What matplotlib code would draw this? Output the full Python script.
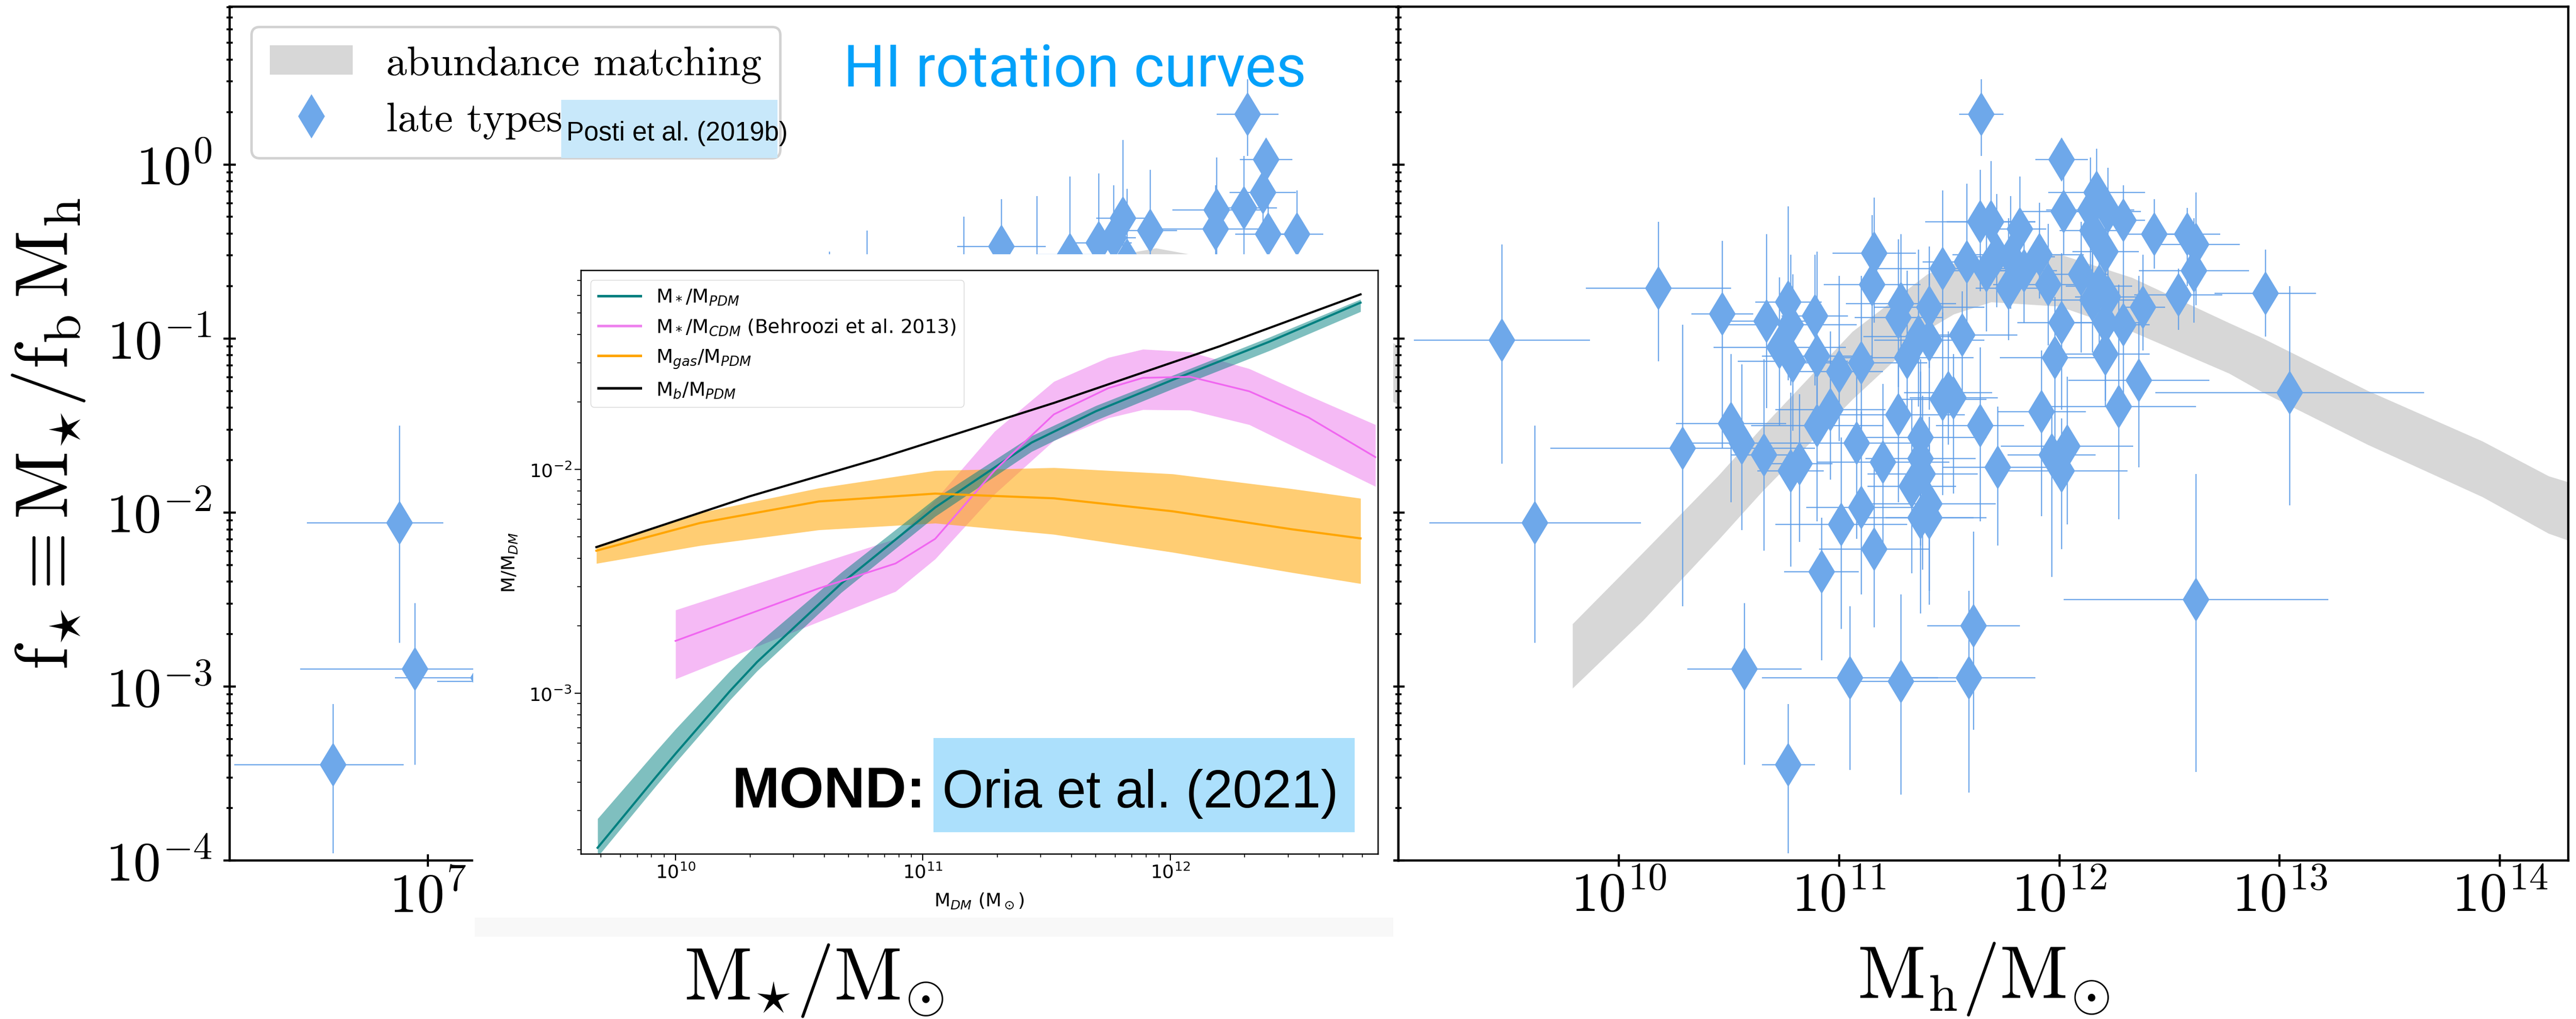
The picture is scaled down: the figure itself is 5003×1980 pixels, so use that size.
import numpy as np
import matplotlib
matplotlib.use("Agg")
import matplotlib.pyplot as plt
from matplotlib import font_manager as fm
from matplotlib.patches import Rectangle, Patch
from matplotlib.lines import Line2D

plt.rcParams['mathtext.fontset'] = 'cm'
plt.rcParams['font.family'] = 'serif'
plt.rcParams['font.serif'] = ['cmr10']
plt.rcParams['axes.unicode_minus'] = False
plt.rcParams['axes.formatter.use_mathtext'] = True

# ---------------------------------------------------------------------------
# HI rotation-curve galaxies: log10 halo mass, log10 f_star and errors (dex)
# ---------------------------------------------------------------------------
rc_log_mh = [9.47, 10.18, 10.47, 10.67, 10.77, 10.78, 10.89, 11.16, 11.15, 10.73,
             10.79, 10.90, 11.00, 11.10, 11.28, 11.27, 11.31, 11.36, 11.27, 10.51,
             10.56, 10.29, 10.66, 10.78, 10.82, 10.90, 10.96, 11.08, 11.20, 11.33,
             11.37, 11.37, 11.10, 11.01, 9.62, 10.57, 10.77, 10.92, 11.16, 11.05,
             11.28, 11.37, 11.645, 12.01, 12.02, 12.17, 12.14, 12.22, 12.29, 12.43,
             12.58, 12.62, 12.61, 12.54, 12.935, 13.045, 12.36, 12.27, 12.21, 12.29,
             12.21, 12.38, 12.15, 12.10, 12.18, 12.22, 12.21, 12.15, 12.01, 11.98,
             11.92, 12.01, 12.035, 11.965, 11.72, 11.64, 11.47, 11.52, 11.495, 11.56,
             11.41, 11.47, 11.58, 11.64, 11.69, 11.67, 11.715, 11.77, 11.82, 11.84,
             11.91, 11.95, 11.78, 11.41, 11.38, 11.41, 11.41, 11.61, 11.59, 12.62]
rc_log_fstar = [-1.01, -0.71, -0.86, -0.90, -0.79, -0.92, -0.87, -0.51, -0.69, -1.05,
                -1.13, -1.10, -1.19, -1.14, -0.80, -0.88, -1.11, -0.99, -1.44, -1.49,
                -1.60, -1.63, -1.67, -1.76, -1.72, -1.50, -1.41, -1.60, -1.71, -1.85,
                -1.57, -1.69, -1.97, -2.07, -2.06, -2.90, -3.45, -2.34, -2.21, -2.95,
                -2.97, -2.03, 0.29, 0.03, -0.27, -0.16, -0.26, -0.27, -0.32, -0.40,
                -0.40, -0.46, -0.61, -0.75, -0.74, -1.31, -1.24, -1.39, -1.09, -0.92,
                -0.91, -0.82, -0.78, -0.63, -0.70, -0.76, -0.50, -0.38, -0.91, -1.11,
                -1.42, -1.76, -1.62, -1.67, -1.74, -1.50, -1.35, -1.34, -1.31, -0.98,
                -0.82, -0.60, -0.56, -0.33, -0.33, -0.61, -0.52, -0.71, -0.37, -0.61,
                -0.52, -0.69, -0.53, -1.01, -1.78, -1.95, -2.03, -2.65, -2.95, -2.50]
rc_mh_err = [0.40, 0.33, 0.14, 0.20, 0.15, 0.30, 0.15, 0.19, 0.22, 0.30,
             0.25, 0.25, 0.20, 0.30, 0.25, 0.20, 0.30, 0.25, 0.30, 0.25,
             0.25, 0.60, 0.15, 0.15, 0.15, 0.30, 0.25, 0.30, 0.30, 0.20,
             0.30, 0.25, 0.25, 0.30, 0.48, 0.26, 0.12, 0.17, 0.25, 0.40,
             0.25, 0.30, 0.10, 0.12, 0.20, 0.22, 0.20, 0.15, 0.10, 0.12,
             0.15, 0.20, 0.25, 0.20, 0.23, 0.61, 0.32, 0.35, 0.20, 0.12,
             0.15, 0.10, 0.20, 0.12, 0.15, 0.15, 0.15, 0.15, 0.20, 0.25,
             0.20, 0.30, 0.30, 0.20, 0.25, 0.20, 0.20, 0.20, 0.20, 0.25,
             0.25, 0.30, 0.20, 0.25, 0.20, 0.15, 0.20, 0.15, 0.12, 0.15,
             0.20, 0.25, 0.20, 0.25, 0.25, 0.30, 0.20, 0.21, 0.30, 0.60]
rc_f_err_lo = [0.71, 0.42, 0.77, 0.50, 0.45, 0.35, 0.40, 0.40, 0.45, 0.45,
               0.40, 0.45, 0.40, 0.45, 0.35, 0.40, 0.35, 0.40, 0.50, 0.45,
               0.50, 0.91, 0.55, 0.55, 0.45, 0.55, 0.40, 0.55, 0.50, 0.50,
               0.55, 0.50, 0.50, 0.60, 0.69, 0.55, 0.51, 0.51, 0.45, 0.53,
               0.65, 0.55, 0.24, 0.12, 0.25, 0.30, 0.35, 0.30, 0.25, 0.20,
               0.30, 0.35, 0.30, 0.20, 0.25, 0.65, 0.50, 0.65, 0.30, 0.55,
               0.45, 0.25, 0.30, 0.45, 0.45, 0.35, 0.30, 0.35, 0.50, 0.50,
               0.60, 0.45, 0.45, 0.70, 0.45, 0.55, 0.55, 0.55, 0.30, 0.40,
               0.35, 0.40, 0.35, 0.40, 0.35, 0.35, 0.30, 0.30, 0.30, 0.30,
               0.25, 0.35, 0.30, 0.40, 0.55, 0.50, 0.50, 0.60, 0.66, 0.99]
rc_f_err_hi = [0.55, 0.38, 0.42, 0.50, 0.55, 0.40, 0.35, 0.32, 0.40, 0.40,
               0.50, 0.60, 0.55, 0.50, 0.40, 0.45, 0.50, 0.50, 0.35, 0.40,
               0.45, 0.71, 0.55, 0.45, 0.40, 0.40, 0.45, 0.45, 0.45, 0.50,
               0.45, 0.50, 0.55, 0.50, 0.56, 0.38, 0.35, 0.31, 0.50, 0.41,
               0.50, 0.45, 0.20, 0.12, 0.25, 0.25, 0.30, 0.25, 0.20, 0.20,
               0.15, 0.30, 0.30, 0.15, 0.25, 0.61, 0.60, 0.70, 0.35, 0.35,
               0.30, 0.30, 0.30, 0.30, 0.35, 0.35, 0.30, 0.30, 0.40, 0.35,
               0.35, 0.30, 0.40, 0.25, 0.35, 0.45, 0.50, 0.25, 0.35, 0.25,
               0.35, 0.45, 0.45, 0.30, 0.35, 0.30, 0.35, 0.40, 0.30, 0.30,
               0.30, 0.35, 0.35, 0.40, 0.45, 0.50, 0.45, 0.54, 0.50, 0.72]

# Same galaxies against stellar mass (log10 M_star, log10 f_star, errors in dex)
lt_log_mstar = [6.57, 6.87, 6.94, 7.25, 7.40, 8.82, 8.99, 9.43, 9.60, 9.76,
                9.91, 10.04, 10.11, 10.15, 10.17, 10.275, 10.57, 10.575, 10.70, 10.715,
                10.785, 10.80, 10.81, 10.94]
lt_log_fstar = [-3.45, -2.06, -2.90, -2.95, -2.97, -1.10, -1.00, -0.85, -0.47, -0.70,
                -0.52, -0.45, -0.42, -0.31, -0.55, -0.38, -0.37, -0.26, -0.25, 0.29,
                -0.16, 0.03, -0.40, -0.40]
lt_ms_err_lo = [0.45, 0.42, 0.52, 0.40, 0.36, 0.20, 0.20, 0.25, 0.20, 0.20,
                0.15, 0.15, 0.10, 0.12, 0.12, 0.12, 0.25, 0.20, 0.15, 0.14,
                0.15, 0.12, 0.15, 0.12]
lt_ms_err_hi = [0.32, 0.20, 0.52, 0.40, 0.36, 0.20, 0.20, 0.25, 0.20, 0.20,
                0.15, 0.15, 0.10, 0.12, 0.12, 0.12, 0.25, 0.20, 0.15, 0.14,
                0.15, 0.12, 0.15, 0.12]
lt_f_err_lo = [0.51, 0.69, 0.55, 0.53, 0.65, 0.50, 0.50, 0.45, 0.40, 0.45,
               0.35, 0.35, 0.30, 0.35, 0.40, 0.30, 0.30, 0.30, 0.35, 0.24,
               0.30, 0.12, 0.35, 0.30]
lt_f_err_hi = [0.35, 0.56, 0.38, 0.41, 0.50, 0.60, 0.62, 0.55, 0.27, 0.52,
               0.45, 0.40, 0.30, 0.45, 0.41, 0.35, 0.25, 0.30, 0.30, 0.20,
               0.25, 0.12, 0.30, 0.25]

# Abundance-matching relation (log10 f_star bounds)
am_log_mh = [9.79, 10.11, 10.45, 10.65, 11.06, 11.40, 11.52, 11.69, 12.00, 12.33,
             12.77, 12.91, 13.40, 13.92, 14.22, 14.40]
am_mh_hi = [-2.64, -2.23, -1.79, -1.51, -0.96, -0.63, -0.57, -0.54, -0.515, -0.65,
            -0.91, -0.99, -1.30, -1.59, -1.79, -1.86]
am_mh_lo = [-3.01, -2.62, -2.16, -1.88, -1.35, -0.95, -0.86, -0.79, -0.815, -0.96,
            -1.20, -1.30, -1.61, -1.91, -2.12, -2.20]
am_log_mstar = [8.0, 9.0, 9.5, 10.0, 10.3, 10.6, 11.0, 11.5]
am_ms_hi = [-1.70, -1.10, -0.80, -0.55, -0.48, -0.55, -0.80, -1.10]
am_ms_lo = [-2.30, -1.60, -1.25, -0.90, -0.78, -0.85, -1.10, -1.45]

# MOND inset (log10 M_DM vs log10 mass ratio)
pdm_log_m = [9.685, 9.92, 10.0, 10.22, 10.33, 10.67, 11.05, 11.44, 11.70, 12.01, 12.40, 12.77]
star_pdm = [-3.69, -3.375, -3.27, -2.99, -2.86, -2.51, -2.17, -1.88, -1.74, -1.60, -1.43, -1.255]
star_pdm_hi = [-3.56, -3.26, -3.16, -2.90, -2.78, -2.46, -2.13, -1.85, -1.715, -1.58, -1.41, -1.24]
star_pdm_lo = [-3.73, -3.415, -3.31, -3.03, -2.90, -2.55, -2.21, -1.92, -1.78, -1.64, -1.47, -1.295]

cdm_log_m = [10.0, 10.58, 10.89, 11.05, 11.29, 11.53, 11.75, 11.89, 12.08, 12.32, 12.56, 12.83]
star_cdm = [-2.766, -2.531, -2.42, -2.31, -2.005, -1.754, -1.637, -1.591, -1.586, -1.651, -1.768, -1.945]
star_cdm_hi = [-2.628, -2.42, -2.31, -2.136, -1.83, -1.607, -1.50, -1.463, -1.475, -1.55, -1.67, -1.80]
star_cdm_lo = [-2.936, -2.68, -2.545, -2.40, -2.11, -1.871, -1.77, -1.733, -1.735, -1.80, -1.93, -2.076]

gas_log_m = [9.68, 10.10, 10.58, 11.05, 11.53, 12.01, 12.49, 12.77]
gas_pdm = [-2.363, -2.239, -2.143, -2.108, -2.129, -2.187, -2.267, -2.308]
gas_pdm_hi = [-2.34, -2.193, -2.083, -2.005, -1.992, -2.02, -2.086, -2.129]
gas_pdm_lo = [-2.42, -2.34, -2.27, -2.24, -2.29, -2.37, -2.46, -2.51]

bar_log_m = [9.68, 10.30, 10.82, 11.53, 12.20, 12.77]
bar_pdm = [-2.347, -2.12, -1.952, -1.703, -1.45, -1.218]

# ---------------------------------------------------------------------------
BLUE = '#6ea8ea'
GREY = '#d7d7d7'
W, H = 5003, 1981


def fbox(x0, y0, x1, y1):
    """pixel box (origin top-left) -> figure fraction rectangle"""
    return [x0 / W, 1 - y1 / H, (x1 - x0) / W, (y1 - y0) / H]


names = {f.name for f in fm.fontManager.ttflist}
NARROW = 'Liberation Sans Narrow' if 'Liberation Sans Narrow' in names else 'Liberation Sans'
NARROW_SCALE = 1.0 if NARROW == 'Liberation Sans Narrow' else 0.9
SANS = 'Roboto' if 'Roboto' in names else 'Liberation Sans'

fig = plt.figure(figsize=(W / 100, H / 100), dpi=100)
ax_l = fig.add_axes(fbox(446, 14, 2716, 1673))
ax_r = fig.add_axes(fbox(2716, 14, 4988, 1673), sharey=ax_l)

for ax in (ax_l, ax_r):
    ax.set_xscale('log')
    ax.set_yscale('log')
    for s in ax.spines.values():
        s.set_linewidth(3.2)
    ax.tick_params(which='major', direction='inout', length=17, width=3.0,
                   labelsize=77, top=False, right=False)
    ax.tick_params(which='minor', direction='inout', length=9, width=2.6,
                   top=False, right=False)
    ax.tick_params(axis='x', pad=6)
    ax.tick_params(axis='y', pad=16)

ax_l.set_ylim(1e-4, 10 ** 0.907)
ax_l.set_xlim(10 ** 6.1, 10 ** 11.4)
ax_r.set_xlim(1e9, 10 ** 14.31)
ax_r.tick_params(labelleft=False)

# stellar-mass axis: only the first decade label lies outside the inset
ax_l.set_xticks([1e7, 1e8, 1e9, 1e10, 1e11])
ax_l.set_xticklabels([r'$\mathdefault{10^{7}}$', '', '', '', ''])
ax_r.set_xticks([1e10, 1e11, 1e12, 1e13, 1e14])
ax_r.set_xticklabels([r'$\mathdefault{10^{%d}}$' % k for k in range(10, 15)])
ax_l.xaxis.set_minor_locator(matplotlib.ticker.NullLocator())
ax_r.xaxis.set_minor_locator(matplotlib.ticker.NullLocator())


def draw_points(ax, lx, ly, xlo, xhi, ylo, yhi):
    lx, ly = np.asarray(lx), np.asarray(ly)
    xlo, xhi = np.asarray(xlo), np.asarray(xhi)
    ylo, yhi = np.asarray(ylo), np.asarray(yhi)
    x, y = 10 ** lx, 10 ** ly
    xerr = [x - 10 ** (lx - xlo), 10 ** (lx + xhi) - x]
    yerr = [y - 10 ** (ly - ylo), 10 ** (ly + yhi) - y]
    ax.errorbar(x, y, xerr=xerr, yerr=yerr, fmt='none', ecolor='#5c9ce8',
                elinewidth=1.7, alpha=0.88, zorder=2)
    ax.plot(x, y, 'd', color=BLUE, ms=44, mew=0, ls='none', zorder=3)


# abundance matching bands
ax_r.fill_between(10 ** np.asarray(am_log_mh), 10 ** np.asarray(am_mh_lo),
                  10 ** np.asarray(am_mh_hi), color=GREY, lw=0, zorder=1)
ax_l.fill_between(10 ** np.asarray(am_log_mstar), 10 ** np.asarray(am_ms_lo),
                  10 ** np.asarray(am_ms_hi), color=GREY, lw=0, zorder=1)

draw_points(ax_r, rc_log_mh, rc_log_fstar, rc_mh_err, rc_mh_err, rc_f_err_lo, rc_f_err_hi)
draw_points(ax_l, lt_log_mstar, lt_log_fstar, lt_ms_err_lo, lt_ms_err_hi, lt_f_err_lo, lt_f_err_hi)

ax_l.set_ylabel(r'$\mathrm{f_{\star} \equiv M_{\star} / f_b\, M_h}$', fontsize=104, labelpad=26)
ax_l.set_xlabel(r'$\mathrm{M_{\star}/M_{\odot}}$', fontsize=104, labelpad=26)
ax_r.set_xlabel(r'$\mathrm{M_h/M_{\odot}}$', fontsize=104, labelpad=26)

# legend of the left panel
handles = [Patch(facecolor=GREY, edgecolor='none'),
           Line2D([], [], ls='none', marker='d', ms=44, mew=0, color=BLUE)]
leg = ax_l.legend(handles, ['abundance matching', 'late types'], loc='upper left',
                  bbox_to_anchor=(0.0185, 0.9765), borderaxespad=0, fontsize=58,
                  frameon=True, fancybox=True, edgecolor='#d2d2d2', framealpha=1,
                  handlelength=2.0, handleheight=0.7, handletextpad=0.8,
                  borderpad=0.45, labelspacing=0.45)
leg.get_frame().set_linewidth(3.5)

ax_l.add_patch(Rectangle((0.2837, 0.8228), 0.185, 0.0681, transform=ax_l.transAxes,
                         facecolor='#c8e8fa', edgecolor='none', zorder=6, clip_on=False))
ax_l.text(0.2880, 0.8440, 'Posti et al. (2019b)', transform=ax_l.transAxes,
          family=NARROW, fontsize=41 * NARROW_SCALE, va='baseline', zorder=7)
ax_l.text(0.525, 0.907, 'HI rotation curves', transform=ax_l.transAxes, color='#03a1fa',
          family=SANS, fontsize=82, va='baseline', zorder=7)

# ---------------------------------------------------------------------------
# MOND inset
fig.add_artist(Rectangle((919 / W, 1 - 1821 / H), (2706 - 919) / W, (1821 - 495) / H,
                         transform=fig.transFigure, facecolor='white', edgecolor='none',
                         zorder=1))
fig.add_artist(Rectangle((922 / W, 1 - 1821 / H), (2706 - 922) / W, (1821 - 1784) / H,
                         transform=fig.transFigure, facecolor='#f8f8f8', edgecolor='none',
                         zorder=1.1))
ax_in = fig.add_axes(fbox(1128, 526, 2676, 1660))
ax_in.set_zorder(2)
ax_in.set_xscale('log')
ax_in.set_yscale('log')
ax_in.set_xlim(10 ** 9.617, 10 ** 12.84)
ax_in.set_ylim(10 ** -3.717, 10 ** -1.11)

ax_in.fill_between(10 ** np.asarray(cdm_log_m), 10 ** np.asarray(star_cdm_lo),
                   10 ** np.asarray(star_cdm_hi), color='violet', alpha=0.55, lw=0)
ax_in.fill_between(10 ** np.asarray(gas_log_m), 10 ** np.asarray(gas_pdm_lo),
                   10 ** np.asarray(gas_pdm_hi), color='orange', alpha=0.55, lw=0)
ax_in.fill_between(10 ** np.asarray(pdm_log_m), 10 ** np.asarray(star_pdm_lo),
                   10 ** np.asarray(star_pdm_hi), color='teal', alpha=0.5, lw=0)
ax_in.plot(10 ** np.asarray(pdm_log_m), 10 ** np.asarray(star_pdm), color='teal', lw=3.0)
ax_in.plot(10 ** np.asarray(cdm_log_m), 10 ** np.asarray(star_cdm), color='#f066f0', lw=2.4)
ax_in.plot(10 ** np.asarray(gas_log_m), 10 ** np.asarray(gas_pdm), color='orange', lw=3.0)
ax_in.plot(10 ** np.asarray(bar_log_m), 10 ** np.asarray(bar_pdm), color='black', lw=3.0)

for s in ax_in.spines.values():
    s.set_linewidth(1.8)
ax_in.tick_params(which='major', direction='out', length=9, width=1.6)
ax_in.tick_params(which='minor', direction='out', length=5, width=1.2)
ax_in.set_xticks([1e10, 1e11, 1e12])
ax_in.set_xticklabels([r'$10^{10}$', r'$10^{11}$', r'$10^{12}$'], fontsize=26,
                      family='DejaVu Sans', math_fontfamily='dejavusans')
ax_in.set_yticks([1e-3, 1e-2])
ax_in.set_yticklabels([r'$10^{-3}$', r'$10^{-2}$'], fontsize=26,
                      family='DejaVu Sans', math_fontfamily='dejavusans')
ax_in.set_xlabel(r'M$_{DM}$ (M$_\odot$)', fontsize=26, family='DejaVu Sans',
                 math_fontfamily='dejavusans', labelpad=14)
ax_in.set_ylabel(r'M/M$_{DM}$', fontsize=26, family='DejaVu Sans',
                 math_fontfamily='dejavusans', labelpad=14)

in_handles = [Line2D([], [], color='teal', lw=3.6),
              Line2D([], [], color='violet', lw=3.6),
              Line2D([], [], color='orange', lw=3.6),
              Line2D([], [], color='black', lw=3.6)]
in_labels = [r'M$_*$/M$_{PDM}$', r'M$_*$/M$_{CDM}$ (Behroozi et al. 2013)',
             r'M$_{gas}$/M$_{PDM}$', r'M$_b$/M$_{PDM}$']
in_leg = ax_in.legend(in_handles, in_labels, loc='upper left',
                      prop={'family': 'DejaVu Sans', 'size': 27},
                      handlelength=2.2, labelspacing=0.55)
for t in in_leg.get_texts():
    t.set_math_fontfamily('dejavusans')

ax_in.add_patch(Rectangle((0.4425, 0.037), 0.5285, 0.1614, transform=ax_in.transAxes,
                          facecolor='#ace0fc', edgecolor='none', zorder=5))
ax_in.text(0.4325, 0.080, 'MOND:', transform=ax_in.transAxes, ha='right', va='baseline',
           family='Liberation Sans', weight='bold', fontsize=80, zorder=6)
ax_in.text(0.4535, 0.080, 'Oria et al. (2021)', transform=ax_in.transAxes, ha='left',
           va='baseline', family=NARROW, fontsize=82 * NARROW_SCALE, zorder=6)

fig.savefig('out.png', dpi=100)
